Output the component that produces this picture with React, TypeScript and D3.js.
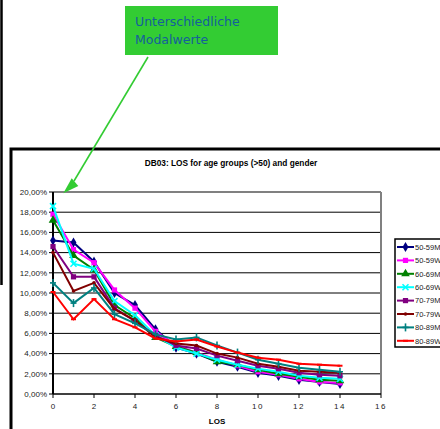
import React from "react";
import * as d3 from "d3";

// LOS (length of stay) in days
const losDays = [0, 1, 2, 3, 4, 5, 6, 7, 8, 9, 10, 11, 12, 13, 14];

const seriesNames = ["50-59M", "50-59W", "60-69M", "60-69W", "70-79M", "70-79W", "80-89M", "80-89W"];

// share of cases in %
const s5059M = [15.2, 15.0, 13.1, 10.0, 8.8, 6.4, 4.6, 4.0, 3.2, 2.7, 2.1, 1.8, 1.4, 1.2, 1.0];
const s5059W = [17.8, 14.3, 13.0, 10.3, 8.5, 6.2, 4.8, 4.1, 3.4, 2.8, 2.2, 1.9, 1.5, 1.2, 1.1];
const s6069M = [17.2, 13.7, 12.3, 8.8, 7.5, 5.6, 4.7, 4.1, 3.2, 2.9, 2.4, 2.0, 1.7, 1.4, 1.3];
const s6069W = [18.6, 12.9, 12.4, 9.2, 7.8, 5.8, 4.6, 4.0, 3.4, 2.9, 2.5, 2.2, 1.8, 1.6, 1.5];
const s7079M = [14.6, 11.6, 11.6, 8.5, 7.2, 5.8, 4.8, 4.5, 3.8, 3.3, 2.8, 2.5, 2.1, 1.9, 1.8];
const s7079W = [14.0, 10.2, 11.0, 8.4, 7.3, 5.6, 5.0, 4.8, 4.0, 3.6, 3.0, 2.7, 2.3, 2.2, 2.1];
const s8089M = [11.0, 9.0, 10.5, 7.9, 7.0, 5.9, 5.4, 5.6, 4.8, 4.1, 3.4, 3.0, 2.6, 2.4, 2.2];
const s8089W = [10.1, 7.4, 9.4, 7.4, 6.6, 5.5, 5.2, 5.4, 4.7, 4.1, 3.6, 3.4, 3.0, 2.9, 2.8];

const seriesValues = [s5059M, s5059W, s6069M, s6069W, s7079M, s7079W, s8089M, s8089W];
const seriesColors = ["#000080", "#ff00ff", "#008000", "#00ffff", "#800080", "#800000", "#008080", "#ff0000"];
const seriesMarkers = ["diamond", "square", "triangle", "star", "square", "dot", "plus", "dash"];

const yTicks = [0, 2, 4, 6, 8, 10, 12, 14, 16, 18, 20];
const xTicks = [0, 2, 4, 6, 8, 10, 12, 14, 16];

const chartTitle = "DB03: LOS for age groups (>50) and gender";
const xTitle = "LOS";
const noteLines = ["Unterschiedliche", "Modalwerte"];

const plot = { left: 53, right: 381, top: 192, bottom: 394 };
const font = "Liberation Sans, Arial, sans-serif";

const Marker = ({ kind, color, x, y }) => {
  if (kind === "diamond") {
    return <path d={d3.symbol(d3.symbolDiamond, 30)()} transform={`translate(${x},${y})`} fill={color} />;
  }
  if (kind === "square") {
    return <rect x={x - 2.6} y={y - 2.6} width={5.2} height={5.2} fill={color} />;
  }
  if (kind === "triangle") {
    return <path d={d3.symbol(d3.symbolTriangle, 32)()} transform={`translate(${x},${y})`} fill={color} />;
  }
  if (kind === "star") {
    return (
      <g stroke={color} strokeWidth={1.6}>
        <line x1={x - 3} y1={y - 3} x2={x + 3} y2={y + 3} />
        <line x1={x - 3} y1={y + 3} x2={x + 3} y2={y - 3} />
      </g>
    );
  }
  if (kind === "dot") {
    return <circle cx={x} cy={y} r={1.8} fill={color} />;
  }
  if (kind === "plus") {
    return (
      <g stroke={color} strokeWidth={1.6}>
        <line x1={x} y1={y - 4} x2={x} y2={y + 4} />
        <line x1={x - 3} y1={y} x2={x + 3} y2={y} />
      </g>
    );
  }
  return <line x1={x - 2.5} y1={y} x2={x + 2.5} y2={y} stroke={color} strokeWidth={2} />;
};

export default function App() {
  const x = d3.scaleLinear().domain([0, 16]).range([plot.left, plot.right]);
  const y = d3.scaleLinear().domain([0, 20]).range([plot.bottom, plot.top]);

  const line = d3
    .line<number>()
    .x((d, i) => x(losDays[i]))
    .y((d) => y(d));

  const legendTop = 239;
  const legendStep = 13.4;

  return (
    <div style={{ position: "absolute", left: 0, top: 0 }}>
      <svg width={440} height={429} style={{ display: "block", background: "#fff" }}>
        {/* left page edge */}
        <line x1={1.5} y1={0} x2={1.5} y2={285} stroke="#000" strokeWidth={2.5} />

        {/* chart frame */}
        <rect x={11} y={149} width={460} height={300} fill="#fff" stroke="#000" strokeWidth={3} />

        <text x={231} y={166} textAnchor="middle" fontFamily={font} fontSize={8.3} fontWeight="bold">
          {chartTitle}
        </text>

        {/* plot area */}
        {yTicks.map((t) => (
          <g key={t}>
            {t > 0 && t < 20 && (
              <line x1={plot.left} x2={plot.right} y1={y(t)} y2={y(t)} stroke="#000" strokeWidth={1} />
            )}
            <line x1={plot.left - 4} x2={plot.left} y1={y(t)} y2={y(t)} stroke="#000" strokeWidth={1} />
            <text x={plot.left - 6} y={y(t) + 2.7} textAnchor="end" fontFamily={font} fontSize={8} fill="#222">
              {t.toFixed(2).replace(".", ",") + "%"}
            </text>
          </g>
        ))}
        <line x1={plot.left} x2={plot.right} y1={plot.top} y2={plot.top} stroke="#808080" strokeWidth={2} />
        <line x1={plot.right} x2={plot.right} y1={plot.top} y2={plot.bottom} stroke="#808080" strokeWidth={2} />
        <line x1={plot.left} x2={plot.right} y1={plot.bottom} y2={plot.bottom} stroke="#000" strokeWidth={1.5} />
        <line x1={plot.left} x2={plot.left} y1={plot.top} y2={plot.bottom} stroke="#000" strokeWidth={2} />
        {xTicks.map((t) => (
          <g key={t}>
            <line x1={x(t)} x2={x(t)} y1={plot.bottom} y2={plot.bottom + 4} stroke="#000" strokeWidth={1} />
            <text
              x={x(t)}
              y={plot.bottom + 15}
              textAnchor="middle"
              fontFamily={font}
              fontSize={8}
              letterSpacing={t >= 10 ? 1.5 : 0}
              fill="#222"
            >
              {t}
            </text>
          </g>
        ))}
        <text x={217} y={424} textAnchor="middle" fontFamily={font} fontSize={8} fontWeight="bold">
          {xTitle}
        </text>

        {/* series */}
        {seriesValues.map((vals, si) => (
          <g key={seriesNames[si]}>
            <path d={line(vals)} fill="none" stroke={seriesColors[si]} strokeWidth={2} />
            {vals.map((v, i) => (
              <Marker key={i} kind={seriesMarkers[si]} color={seriesColors[si]} x={x(losDays[i])} y={y(v)} />
            ))}
          </g>
        ))}

        {/* legend */}
        <rect x={395} y={legendTop} width={60} height={108} fill="#fff" stroke="#000" strokeWidth={1.5} />
        {seriesNames.map((n, i) => {
          const ly = legendTop + 8 + i * legendStep;
          return (
            <g key={n}>
              <line x1={397} x2={414} y1={ly} y2={ly} stroke={seriesColors[i]} strokeWidth={2} />
              <Marker kind={seriesMarkers[i]} color={seriesColors[i]} x={405.5} y={ly} />
              <text x={415} y={ly + 2.7} fontFamily={font} fontSize={7.5} fill="#222">
                {n}
              </text>
            </g>
          );
        })}

        {/* annotation */}
        <rect x={125} y={6} width={153} height={49} fill="#33cc33" />
        {noteLines.map((t, i) => (
          <text
            key={t}
            x={135}
            y={26 + i * 18}
            fontFamily="DejaVu Sans, Verdana, sans-serif"
            fontSize={12.5}
            fill="#155f9c"
          >
            {t}
          </text>
        ))}
        <line x1={148} y1={57} x2={74} y2={181} stroke="#33cc33" strokeWidth={1.6} />
        <polygon points="63.3,193.3 71.7,178.3 78.3,186" fill="#33cc33" />
      </svg>
    </div>
  );
}
